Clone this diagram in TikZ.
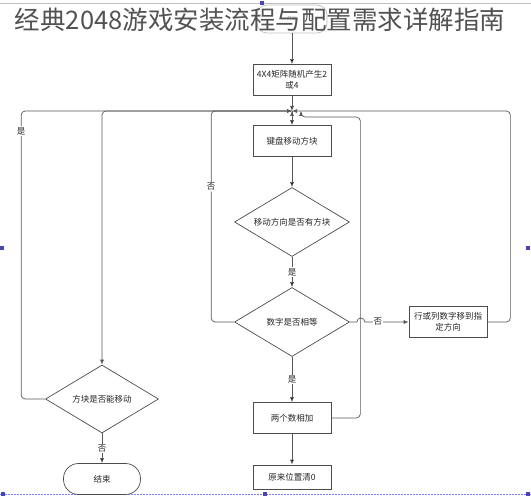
\documentclass[tikz,border=0pt]{standalone}
\usepackage{fontspec}
\setmainfont{Noto Sans CJK SC}
\usetikzlibrary{arrows.meta, positioning, shapes.geometric}

\begin{document}
\begin{tikzpicture}[x=1pt,y=1pt,node distance=60pt,on grid,>={Latex[length=5pt,width=4pt]},line width=0.7pt,
	every node/.style={font=\fontsize{8.5}{11}\selectfont, text=black!85},
	box/.style={draw=black!70, minimum width=78pt, minimum height=31pt, align=center, inner sep=1pt},
	decision/.style={draw=black!70, diamond, aspect=1.6, minimum width=115pt, minimum height=69pt, inner sep=0pt},
	terminal/.style={draw=black!70, rounded corners=15pt, minimum width=77pt, minimum height=31pt},
	lbl/.style={fill=white, inner sep=1pt},
	flow/.style={draw=black!65, ->},
	handle/.style={fill=blue!45!gray, minimum size=4pt, inner sep=0pt}]
	
	\useasboundingbox (0,0) rectangle (531,-500);
	
	% selection frame
	\draw [black!25, line width=0.5pt] (0,-3) -- (531,-3);
	\draw [blue!50, densely dotted, line width=0.5pt] (0,-494) -- (531,-494);
	\foreach \hx/\hy in {262/-3, 2/-248, 528/-248, 3/-494, 265/-494, 528/-494}
		\node [handle] at (\hx,\hy) {};
	
	% start (behind the title)
	\node (start) [draw=black!25, rounded corners=10pt, minimum width=70pt, minimum height=28pt, font=\fontsize{5}{6}\selectfont, text=black!40] at (292,-19) {开始};
	\node (title) [font=\fontsize{25.5}{28}\selectfont, text=black!68] at (260,-20) {经典2048游戏安装流程与配置需求详解指南};
	
	% main column
	\node (box1) [box] at (292,-80) {4X4矩阵随机产生2\\或4};
	\coordinate [below = 31pt of box1] (j);
	\coordinate [right = 9pt of j] (j2);
	\node (kbd) [box, below = 61pt of box1] {键盘移动方块};
	\node (dia1) [decision, below = 81pt of kbd] {移动方向是否有方块};
	\node (dia2) [decision, below = 100pt of dia1] {数字是否相等};
	\node (add) [box, below = 96pt of dia2] {两个数相加};
	\node (clear) [box, below = 59pt of add, minimum height=24pt] {原来位置清0};
	\node (shift) [box, right = 156pt of dia2] {行或列数字移到指\\定方向};
	
	% left column
	\node (dia3) [decision, minimum width=113pt, minimum height=68pt] at (102,-399) {方块是否能移动};
	\node (end) [terminal, below = 80pt of dia3] {结束};
	
	\path [flow]
	(start) edge (box1)
	(box1) edge (j)
	(j) edge (kbd)
	(kbd) edge (dia1)
	(dia1) edge node [lbl] {是} (dia2)
	(dia2) edge node [lbl] {是} (add)
	(add) edge (clear)
	(dia3) edge node [lbl] {否} (end);
	
	% loops back to the top
	\draw [flow, rounded corners=4pt] (dia2.west) -- ++(-23,0) |- node [lbl, pos=0.32] {否} (j);
	\draw [flow, rounded corners=4pt] (dia3.west) -- ++(-24,0) |- node [lbl, pos=0.465] {是} (j);
	\draw [flow, rounded corners=4pt] (j) -| (dia3.north);
	\draw [flow, rounded corners=4pt] (shift.east) -- ++(23,0) |- (j);
	\draw [flow, rounded corners=4pt] (add.east) -- ++(29,0) |- ([yshift=-6pt]j2) -- (j2);
	
	% no -> shift, hopping over the loop
	\draw [flow] (dia2.east) -- ++(7,0) arc [start angle=180, end angle=0, radius=4] -- node [lbl, pos=0.3] {否} (shift.west);
	
\end{tikzpicture}
\end{document}
